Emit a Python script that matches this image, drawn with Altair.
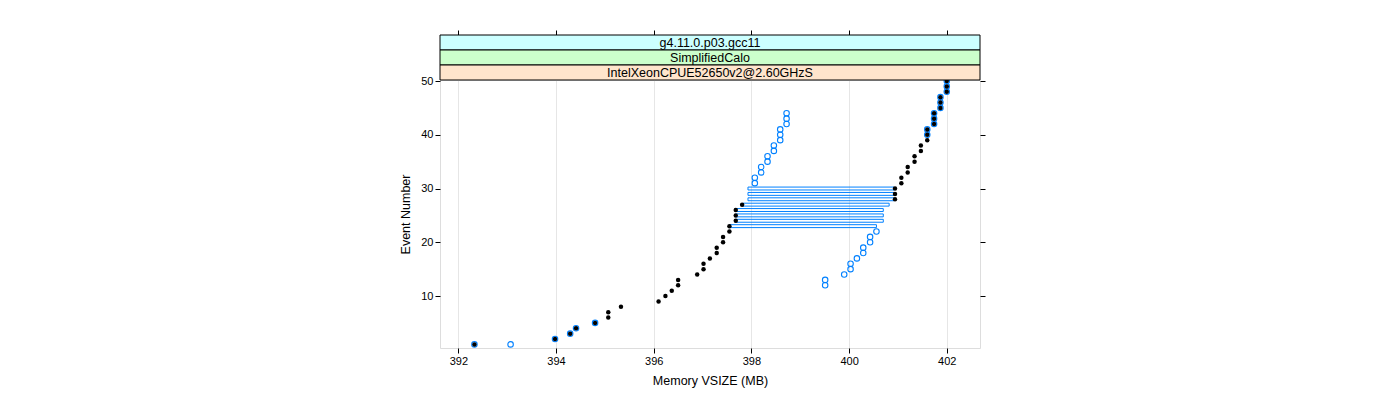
import altair as alt
import pandas as pd

# ---- data ----
black_event = list(range(1, 51))
black_mem = [392.33, 393.98, 394.29, 394.41, 394.80, 395.07, 395.07, 395.33, 396.10, 396.24,
             396.37, 396.50, 396.50, 396.89, 397.02, 397.02, 397.15, 397.29, 397.29, 397.42,
             397.42, 397.55, 397.55, 397.68, 397.68, 397.68, 397.81, 400.94, 400.94, 400.94,
             401.07, 401.07, 401.20, 401.20, 401.34, 401.34, 401.47, 401.47, 401.60, 401.60,
             401.60, 401.74, 401.74, 401.74, 401.87, 401.87, 401.87, 402.00, 402.00, 402.00]

blue_event = [1, 1, 2, 3, 4, 5,
              12, 13, 14, 15, 16, 17, 18, 19, 20, 21, 22,
              31, 32, 33, 34, 35, 36, 37, 38, 39, 40, 41, 42, 43, 44,
              40, 41, 42, 43, 44, 45, 46, 47, 48, 49, 50]
blue_mem = [392.33, 393.07, 393.98, 394.29, 394.41, 394.80,
            399.51, 399.51, 399.90, 400.03, 400.03, 400.16, 400.29, 400.29, 400.43, 400.43, 400.56,
            398.07, 398.07, 398.20, 398.20, 398.33, 398.33, 398.46, 398.46, 398.59, 398.59, 398.59,
            398.72, 398.72, 398.72,
            401.60, 401.60, 401.74, 401.74, 401.74, 401.87, 401.87, 401.87, 402.00, 402.00, 402.00]

range_event = [23, 24, 25, 26, 27, 28, 29, 30]
range_lo = [397.55, 397.68, 397.68, 397.68, 397.83, 397.93, 397.93, 397.93]
range_hi = [400.56, 400.70, 400.70, 400.70, 400.82, 400.92, 400.92, 400.92]

strip_labels = ["g4.11.0.p03.gcc11", "SimplifiedCalo", "IntelXeonCPUE52650v2@2.60GHzS"]
x_ticks = [392, 394, 396, 398, 400, 402]
y_ticks = [10, 20, 30, 40, 50]

black_df = pd.DataFrame({"event": black_event, "mem": black_mem})
blue_df = pd.DataFrame({"event": blue_event, "mem": blue_mem})
range_df = pd.DataFrame({"event": range_event, "lo": range_lo, "hi": range_hi})

FONT = "Liberation Sans"
BLUE = "#0080ff"
W, H = 540, 268
xscale = alt.Scale(domain=[391.625, 402.68], nice=False, zero=False)
yscale = alt.Scale(domain=[0.33, 50.19], nice=False, zero=False)

axis_common = dict(labelFont=FONT, titleFont=FONT, labelColor="black", titleColor="black",
                   tickColor="black", domain=False, titleFontWeight="normal")

rects = alt.Chart(range_df).transform_calculate(
    ylo="datum.event - 0.27", yhi="datum.event + 0.27"
).mark_rect(stroke=BLUE, strokeWidth=1, fillOpacity=0).encode(
    x=alt.X("lo:Q", scale=xscale, axis=None),
    x2="hi:Q",
    y=alt.Y("ylo:Q", scale=yscale, axis=None),
    y2="yhi:Q",
)

blue = alt.Chart(blue_df).mark_point(shape="circle", size=30, filled=False, stroke=BLUE,
                                     strokeWidth=1.1, opacity=1).encode(
    x=alt.X("mem:Q", scale=xscale,
            axis=alt.Axis(orient="top", values=x_ticks, labels=False, title=None, grid=False,
                          ticks=True, tickSize=5, offset=45, **axis_common)),
    y=alt.Y("event:Q", scale=yscale,
            axis=alt.Axis(orient="right", values=y_ticks, labels=False, title=None, grid=False,
                          ticks=True, tickSize=5, **axis_common)),
)

black = alt.Chart(black_df).mark_circle(size=20, color="black", opacity=1).encode(
    x=alt.X("mem:Q", scale=xscale,
            axis=alt.Axis(orient="bottom", values=x_ticks, title="Memory VSIZE (MB)",
                          grid=True, gridColor="#e6e6e6", tickSize=5, labelPadding=2,
                          labelFontSize=11, titleFontSize=12.5, titlePadding=8, **axis_common)),
    y=alt.Y("event:Q", scale=yscale,
            axis=alt.Axis(orient="left", values=y_ticks, title="Event Number",
                          grid=False, tickSize=5, labelPadding=2,
                          labelFontSize=11, titleFontSize=12.5, titlePadding=8, **axis_common)),
)

strip_fills = ["#ccffff", "#ccffcc", "#ffe5cc"]
strip_layers = []
for i, lab in enumerate(strip_labels):
    top = -45 + 15 * i
    d = pd.DataFrame({"label": [lab]})
    strip_layers.append(
        alt.Chart(d).mark_rect(fill=strip_fills[i], stroke="black", strokeWidth=1).encode(
            x=alt.value(0), x2=alt.value(W), y=alt.value(top), y2=alt.value(top + 15))
    )
    strip_layers.append(
        alt.Chart(d).mark_text(font=FONT, fontSize=12.5, color="black", baseline="middle",
                               align="center").encode(
            x=alt.value(W / 2), y=alt.value(top + 7.5), text="label:N")
    )

chart = alt.layer(rects, blue, black, *strip_layers).resolve_axis(
    x="independent", y="independent"
).properties(
    width=W, height=H,
    autosize=alt.AutoSizeParams(type="none"),
    padding={"left": 432, "top": 72, "right": 10, "bottom": 45},
).configure_view(stroke="black", strokeWidth=1).configure(background="white")

chart.save("out.html", embed_options={"renderer": "svg", "actions": False})
